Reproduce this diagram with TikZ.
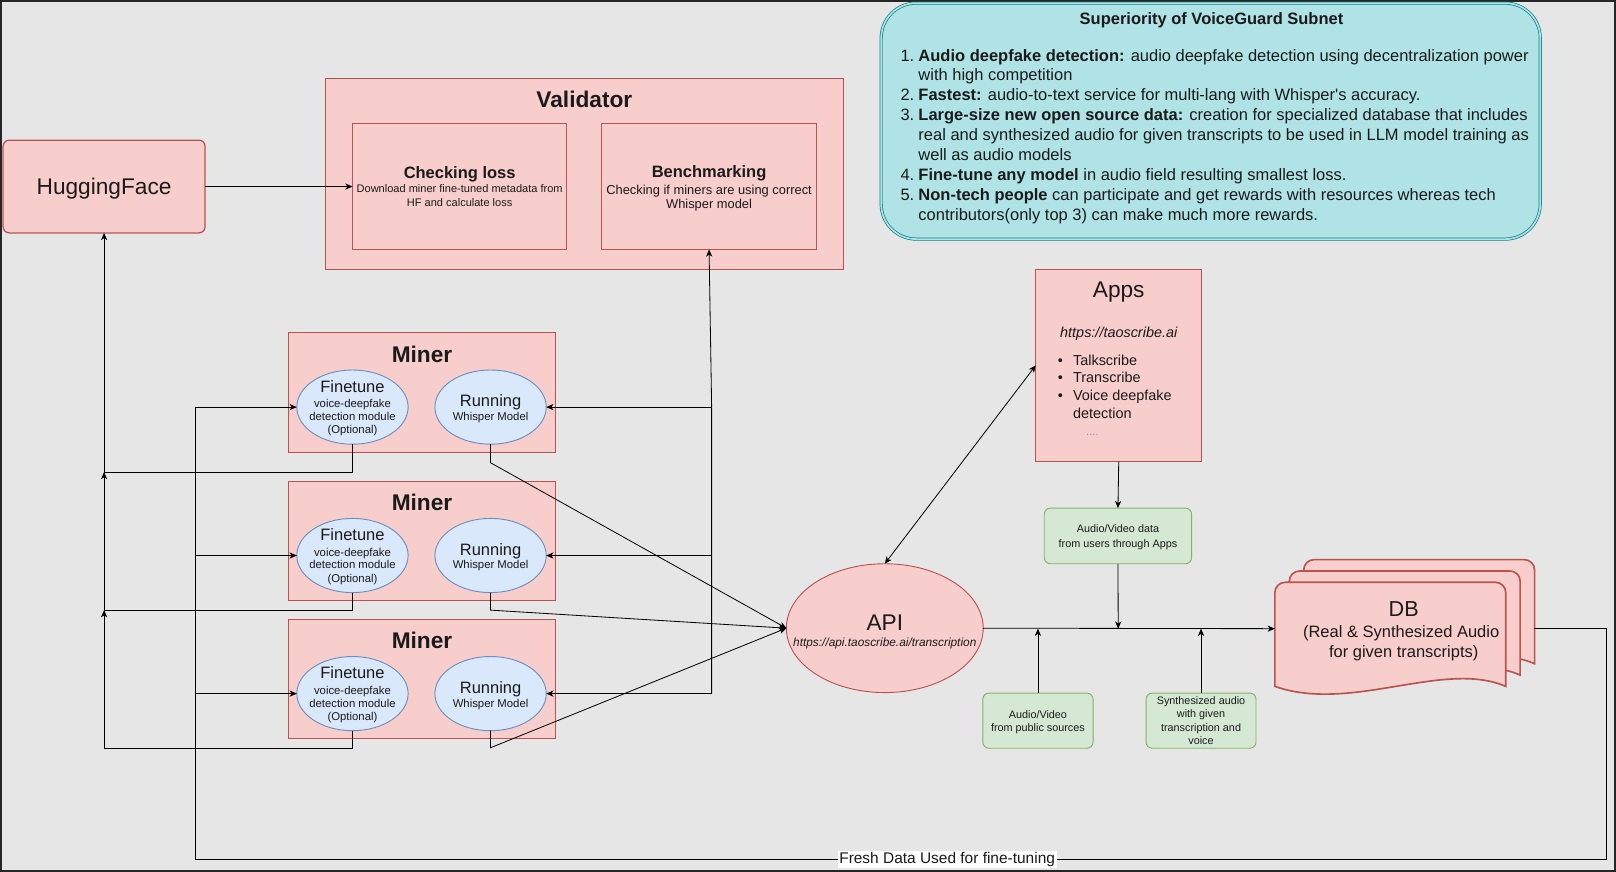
\documentclass[tikz,border=0pt]{standalone}
\usepackage{fontspec}
\setmainfont{Liberation Sans}
\usetikzlibrary{arrows.meta,shapes.geometric}
\definecolor{bg}{HTML}{E6E6E6}
\definecolor{rfill}{HTML}{F8CECC}
\definecolor{rline}{HTML}{B85450}
\definecolor{bfill}{HTML}{DAE8FC}
\definecolor{bline}{HTML}{6C8EBF}
\definecolor{gfill}{HTML}{D5E8D4}
\definecolor{gline}{HTML}{82B366}
\definecolor{tfill}{HTML}{B0E3E6}
\definecolor{tline}{HTML}{0E8088}
\definecolor{txt}{HTML}{1A1A1A}
\newcommand{\myfs}[1]{\fontsize{#1}{#1}\selectfont}
\begin{document}
\begin{tikzpicture}[x=1pt,y=-1pt,
  every node/.style={text=txt},
  redbox/.style={draw=rline,fill=rfill,line width=0.9pt,inner sep=0pt,outer sep=0pt},
  grnbox/.style={draw=gline,fill=gfill,line width=0.9pt,rounded corners=6pt,inner sep=0pt,outer sep=0pt},
  bluell/.style={ellipse,draw=bline,fill=bfill,line width=0.9pt,minimum width=108pt,minimum height=72pt,inner sep=0pt,outer sep=0pt},
  arr/.style={line width=0.8pt,-{Stealth[length=7pt,width=6pt,inset=2pt]}},
  barr/.style={line width=0.8pt,{Stealth[length=7pt,width=6pt,inset=2pt]}-{Stealth[length=7pt,width=6pt,inset=2pt]}},
  ln/.style={line width=0.8pt},
  dbs/.style={draw=rline,fill=rfill,line width=1.6pt},
  lbl/.style={anchor=base,inner sep=0pt},
  lblw/.style={anchor=base west,inner sep=0pt}
]
\useasboundingbox (0,0) rectangle (1568,846);
\fill[bg] (0,0) rectangle (1568,846);
\draw[line width=1.6pt,color=black!85] (0.8,0.8) rectangle (1567.2,845.2);

% ---------- Superiority box ----------
\draw[draw=tline,fill=tfill,line width=0.7pt,double=tfill,double distance=1.6pt,rounded corners=34pt]
  (855,3) rectangle (1494.5,232);
\node[lbl] (suptitle) at (1175.5,23.6) {\bfseries\myfs{16}Superiority of VoiceGuard Subnet};
\begin{scope}[every node/.append style={font=\myfs{16}}]
\node[lblw] (n1) at (873.6,59.2) {1.};
\node[lblw] (l1a) at (891,59.2) {\textbf{Audio deepfake detection:} audio deepfake detection using decentralization power};
\node[lblw] (l1b) at (891,78.5) {with high competition};
\node[lblw] (n2) at (873.6,97.8) {2.};
\node[lblw] (l2a) at (891,97.8) {\textbf{Fastest:} audio-to-text service for multi-lang with Whisper\textquotesingle s accuracy.};
\node[lblw] (n3) at (873.6,117.1) {3.};
\node[lblw] (l3a) at (891,117.1) {\textbf{Large-size new open source data:} creation for specialized database that includes};
\node[lblw] (l3b) at (891,136.4) {real and synthesized audio for given transcripts to be used in LLM model training as};
\node[lblw] (l3c) at (891,155.7) {well as audio models};
\node[lblw] (n4) at (873.6,175.0) {4.};
\node[lblw] (l4a) at (891,175.0) {\textbf{Fine-tune any model} in audio field resulting smallest loss.};
\node[lblw] (n5) at (873.6,194.3) {5.};
\node[lblw] (l5a) at (891,194.3) {\textbf{Non-tech people} can participate and get rewards with resources whereas tech};
\node[lblw] (l5b) at (891,213.6) {contributors(only top 3) can make much more rewards.};
\end{scope}

% ---------- HuggingFace ----------
\node[redbox,rounded corners=6pt,line width=1.2pt,minimum width=196pt,minimum height=90pt] (hf) at (101,181) {};
\node[lbl] (hft) at (101,189) {\myfs{22}HuggingFace};

% ---------- Validator ----------
\node[redbox,minimum width=502pt,minimum height=185pt] (val) at (567,168.5) {};
\node[lbl] (valt) at (567,104) {\bfseries\myfs{22}Validator};
\node[redbox,minimum width=208pt,minimum height=122pt] (cl) at (446,181) {};
\node[lbl] (clt) at (446,172.8) {\bfseries\myfs{16}Checking loss};
\node[lbl] (cl1) at (446,186.9) {\myfs{10.7}Download miner fine-tuned metadata from};
\node[lbl] (cl2) at (446,199.9) {\myfs{10.7}HF and calculate loss};
\node[redbox,minimum width=208pt,minimum height=122pt] (bm) at (688,181) {};
\node[lbl] (bmt) at (688,171.8) {\bfseries\myfs{16}Benchmarking};
\node[lbl] (bm1) at (688,188.5) {\myfs{12.5}Checking if miners are using correct};
\node[lbl] (bm2) at (688,202.5) {\myfs{12.5}Whisper model};

% ---------- Miners ----------
\foreach \i/\t in {1/323,2/467,3/601}{
  \node[redbox,minimum width=259pt,minimum height=116pt,anchor=north west] (m\i) at (280,\t) {};
  \node[lbl] (mt\i) at (409.5,\t+28.4) {\bfseries\myfs{22}Miner};
  \node[bluell] (ft\i) at (342,\t+72) {};
  \node[bluell] (rn\i) at (476,\t+72) {};
  \node[lbl] (fta\i) at (342,\t+57.8) {\myfs{16}Finetune};
  \node[lbl] (ftb\i) at (342,\t+72.7) {\myfs{11}voice-deepfake};
  \node[lbl] (ftc\i) at (342,\t+85) {\myfs{11}detection module};
  \node[lbl] (ftd\i) at (342,\t+98) {\myfs{11}(Optional)};
  \node[lbl] (rna\i) at (476,\t+71.6) {\myfs{16}Running};
  \node[lbl] (rnb\i) at (476,\t+85) {\myfs{11}Whisper Model};
}

% ---------- API ----------
\node[ellipse,draw=rline,fill=rfill,line width=0.9pt,minimum width=191pt,minimum height=125pt,inner sep=0pt,outer sep=0pt] (api) at (858.5,609.5) {};
\node[lbl] (apit) at (858.5,611.4) {\myfs{22}API};
\node[lbl] (apiu) at (858.5,627.7) {\itshape\myfs{11.5}https://api.taoscribe.ai/transcription};

% ---------- Apps ----------
\node[redbox,minimum width=161pt,minimum height=187pt] (apps) at (1085.5,354.5) {};
\node[lbl] (appst) at (1085.5,288.8) {\myfs{22}Apps};
\node[lbl] (appsu) at (1085.5,327) {\itshape\myfs{14}https://taoscribe.ai};
\foreach \k/\yy/\s in {1/354.3/Talkscribe,2/371.5/Transcribe,3/389/Voice deepfake}{
  \node[lbl] (bul\k) at (1029,\yy) {\myfs{14}•};
  \node[lblw] (it\k) at (1041,\yy) {\myfs{14}\s};
}
\node[lblw] (it4) at (1041,406) {\myfs{14}detection};
\node[lbl,text=black!45] (dots) at (1060,423) {\myfs{11}....};

% ---------- Green boxes ----------
\node[grnbox,minimum width=143pt,minimum height=54pt] (g1) at (1084.75,520) {};
\node[lbl] (g1a) at (1084.75,516.8) {\myfs{10.5}Audio/Video data};
\node[lbl] (g1b) at (1084.75,530.8) {\myfs{10.5}from users through Apps};
\node[grnbox,minimum width=107pt,minimum height=53.5pt] (g2) at (1007.1,699.25) {};
\node[lbl] (g2a) at (1007.1,696.8) {\myfs{10.5}Audio/Video};
\node[lbl] (g2b) at (1007.1,709.8) {\myfs{10.5}from public sources};
\node[grnbox,minimum width=106.7pt,minimum height=53.5pt] (g3) at (1165.35,699.25) {};
\node[lbl] (g3a) at (1165.35,683.8) {\myfs{10.5}Synthesized audio};
\node[lbl] (g3b) at (1165.35,696.6) {\myfs{10.5}with given};
\node[lbl] (g3c) at (1165.35,709.8) {\myfs{10.5}transcription and};
\node[lbl] (g3d) at (1165.35,722.5) {\myfs{10.5}voice};

% ---------- DB (multi-document) ----------
\foreach \dx/\dy in {1265/543,1251/554,1237/565}{
  \begin{scope}[shift={(\dx,\dy)}]
    \draw[dbs] (0,101) -- (0,40) [rounded corners=10pt] -- (0,0) -- (224,0) -- (224,40) [sharp corners]
      -- (224,101) .. controls (164,75) and (74,127) .. (0,101) -- cycle;
  \end{scope}
}
\node[inner sep=0pt,outer sep=0pt,minimum width=224pt,minimum height=101pt] (db) at (1349,615.5) {};
\node[lbl] (dbt) at (1362,598.2) {\myfs{21}DB};
\node[lbl] (dbl1) at (1359.5,618.2) {\myfs{16}(Real \& Synthesized Audio};
\node[lbl] (dbl2) at (1362,638.2) {\myfs{16}for given transcripts)};

% ---------- coordinates ----------
\coordinate (dbin) at (1237,610);
\coordinate (dbout) at (1488,610);
\coordinate (j1) at (1085,610);
\coordinate (j2) at (1007.1,610);
\coordinate (j3) at (1165.35,610);
\coordinate (rb) at (1559,610);
\coordinate (rbb) at (1559,833.5);
\coordinate (lbb) at (190,833.5);
\coordinate (bus3) at (690.5,673);

% ---------- connectors ----------
\draw[arr] (hf.east) -- (cl.west);
\draw[arr] (bus3) -- (690.5,395) -- (bm.south);
\foreach \i/\yy in {1/395,2/539,3/673}{
  \draw[arr] (690.5,\yy) -- (rn\i.east);
  \draw[arr] (190,\yy) -- (ft\i.west);
}
\draw[arr] (ft1.south) -- (342,458) -- (101,458) -- (hf.south);
\draw[arr] (ft2.south) -- (342,592) -- (101,592) -- (101,458);
\draw[arr] (ft3.south) -- (342,726) -- (101,726) -- (101,592);
\draw[arr] (rn1.south) -- (476,449) -- (api.west);
\draw[arr] (rn2.south) -- (476,592) -- (api.west);
\draw[arr] (rn3.south) -- (476,725.5) -- (api.west);
\draw[barr] (api.north) -- (apps.west);
\draw[arr] (apps.south) -- (g1.north);
\draw[arr] (g1.south) -- (j1);
\draw[arr] (api.east) -- (dbin);
\draw[arr] (g2.north) -- (j2);
\draw[arr] (g3.north) -- (j3);
\draw[ln] (dbout) -- (rb) -- (rbb) -- (lbb) -- (190,395);
\node[fill=white,inner xsep=1.5pt,inner ysep=0pt,text height=12pt,text depth=4pt] (fresh) at (919,834) {\myfs{15}Fresh Data Used for fine-tuning};
\end{tikzpicture}
\end{document}
